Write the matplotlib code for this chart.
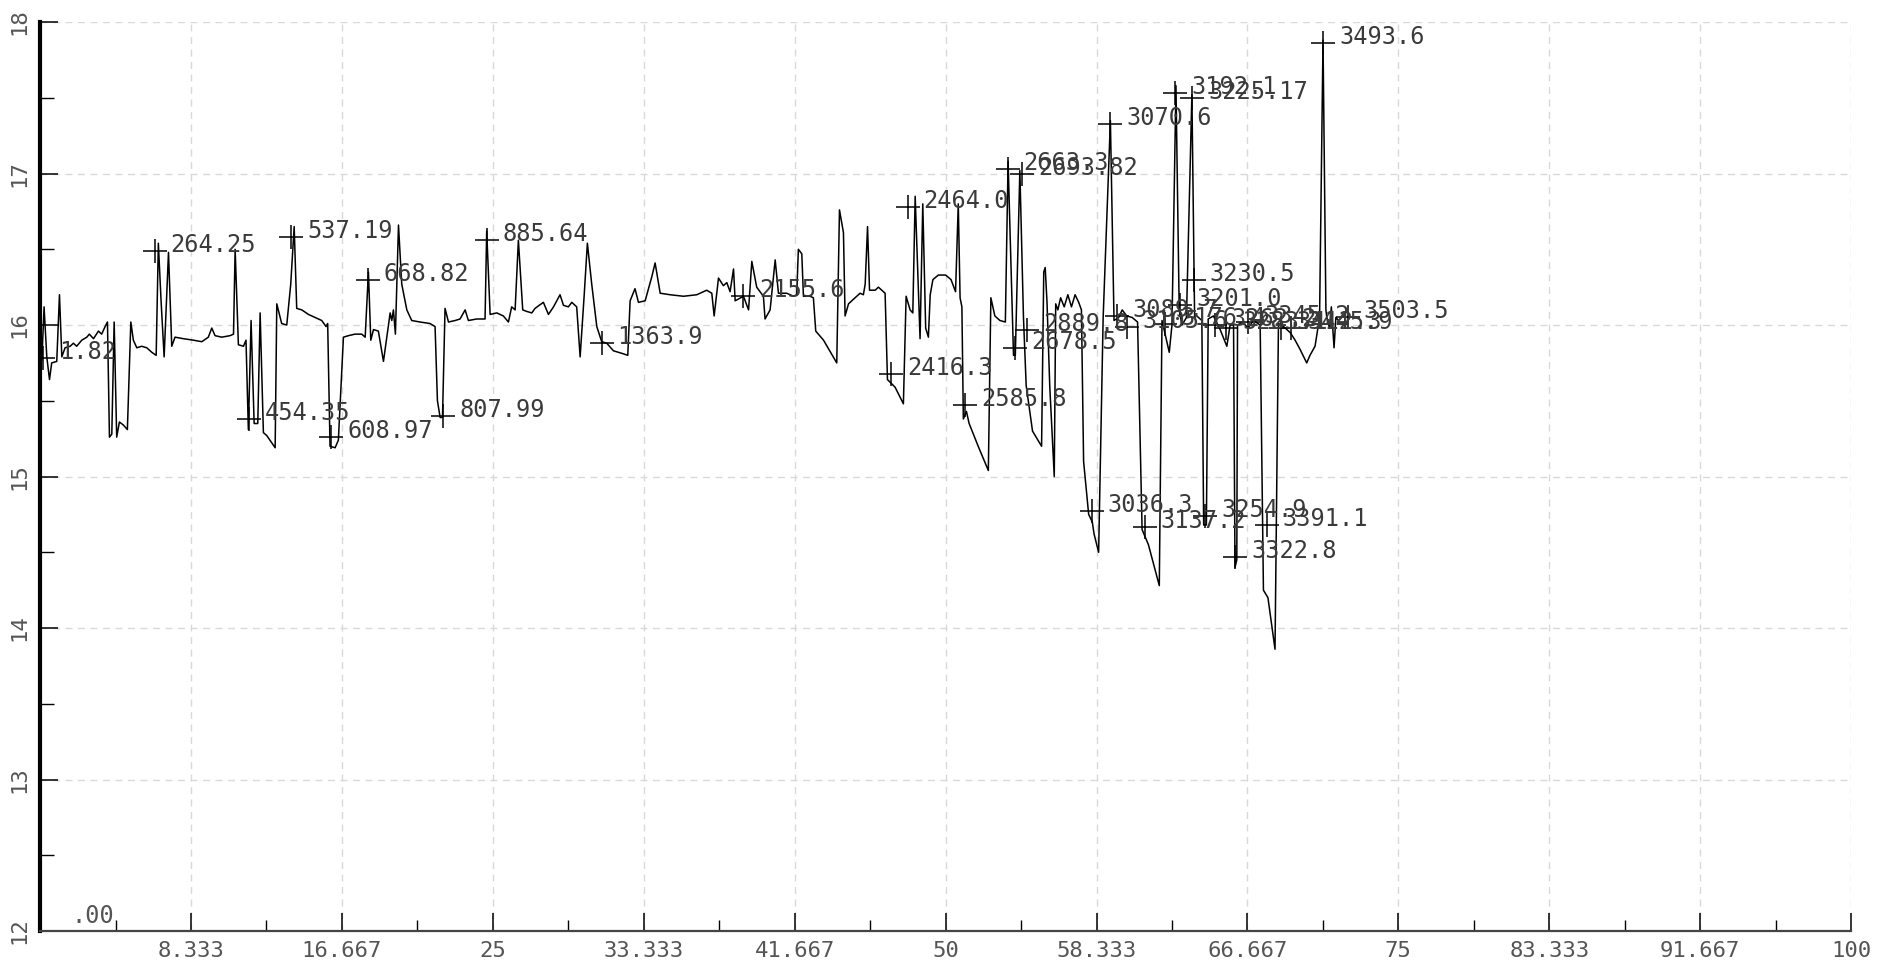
import matplotlib
matplotlib.use("Agg")
import matplotlib.pyplot as plt
from matplotlib.ticker import FixedLocator, MultipleLocator

# ---- trace data (x in %, y value) ----
trace_x = [
    0.10, 0.22, 0.37, 0.52, 0.64, 0.92, 1.07, 1.20, 1.38, 1.66, 1.84, 2.02, 2.30, 2.58, 2.72, 2.95,
    3.22, 3.40, 3.59, 3.72, 3.83, 3.96, 4.09, 4.23, 4.38, 4.60, 4.82, 5.01, 5.15, 5.34, 5.61, 5.89,
    6.17, 6.41, 6.53, 6.68, 6.85, 7.09, 7.27, 7.45, 7.91, 8.47, 8.93, 9.29, 9.48, 9.66, 10.03, 10.49,
    10.68, 10.77, 10.95, 11.23, 11.37, 11.50, 11.65, 11.82, 12.02, 12.15, 12.33, 12.52, 12.98, 13.07,
    13.34, 13.62, 13.84, 14.03, 14.17, 14.45, 14.82, 15.18, 15.55, 15.79, 15.88, 16.01, 16.29, 16.47,
    16.75, 17.03, 17.39, 17.76, 17.95, 18.13, 18.26, 18.41, 18.68, 18.96, 19.33, 19.42, 19.51, 19.62,
    19.79, 19.97, 20.25, 20.52, 20.98, 21.53, 21.81, 21.94, 22.09, 22.22, 22.36, 22.55, 22.92, 23.19,
    23.47, 23.65, 24.11, 24.57, 24.66, 24.85, 25.22, 25.58, 25.86, 26.04, 26.23, 26.41, 26.65, 26.87,
    27.15, 27.33, 27.79, 28.07, 28.35, 28.71, 28.90, 29.17, 29.36, 29.63, 29.82, 30.04, 30.22, 30.46,
    30.74, 31.01, 31.29, 31.66, 32.21, 32.45, 32.58, 32.85, 33.04, 33.41, 33.78, 33.96, 34.24, 34.79,
    35.53, 36.26, 36.81, 37.09, 37.22, 37.46, 37.73, 37.92, 38.10, 38.29, 38.38, 38.84, 39.12, 39.30,
    39.57, 39.94, 40.03, 40.31, 40.59, 40.77, 41.23, 41.60, 41.78, 41.87, 42.06, 42.15, 42.52, 42.70,
    42.83, 43.26, 43.99, 44.14, 44.36, 44.45, 44.64, 44.91, 45.28, 45.46, 45.56, 45.69, 45.80, 46.11,
    46.29, 46.66, 46.79, 47.21, 47.67, 47.82, 48.04, 48.19, 48.32, 48.59, 48.74, 48.90, 49.05, 49.15,
    49.30, 49.60, 50.00, 50.30, 50.55, 50.70, 50.80, 50.90, 50.98, 51.15, 51.30, 51.80, 52.36, 52.50,
    52.72, 53.00, 53.30, 53.45, 53.75, 53.85, 54.10, 54.30, 54.45, 54.80, 55.30, 55.42, 55.50, 55.60,
    55.75, 56.00, 56.08, 56.20, 56.35, 56.55, 56.75, 56.95, 57.15, 57.35, 57.50, 57.62, 57.90, 58.10,
    58.20, 58.45, 58.70, 59.10, 59.30, 59.56, 59.75, 60.00, 60.30, 60.60, 60.85, 61.20, 61.80, 61.95,
    62.10, 62.35, 62.50, 62.72, 62.90, 63.05, 63.30, 63.60, 63.75, 63.87, 64.15, 64.25, 64.40, 64.50,
    64.79, 65.16, 65.53, 65.71, 65.90, 65.98, 66.08, 66.12, 66.40, 66.70, 67.00, 67.37, 67.55, 67.80,
    68.19, 68.38, 68.66, 69.03, 69.30, 69.57, 69.94, 70.12, 70.40, 70.65, 70.84, 71.00, 71.05, 71.20,
    71.30, 71.45, 71.55, 71.70,
]
trace_y = [
    15.77, 16.12, 15.79, 15.64, 15.75, 15.76, 16.20, 15.79, 15.85, 15.86, 15.88, 15.86, 15.90, 15.92, 15.94, 15.91,
    15.96, 15.94, 15.99, 16.02, 15.26, 15.28, 16.02, 15.26, 15.36, 15.34, 15.31, 16.02, 15.90, 15.85, 15.86, 15.85,
    15.82, 15.80, 16.54, 16.16, 15.79, 16.48, 15.86, 15.92, 15.91, 15.90, 15.89, 15.92, 15.98, 15.93, 15.92, 15.93,
    15.94, 16.50, 15.87, 15.86, 15.90, 15.31, 16.03, 15.35, 15.35, 16.08, 15.29, 15.27, 15.19, 16.14,
    16.01, 16.00, 16.27, 16.65, 16.11, 16.10, 16.07, 16.05, 16.03, 15.99, 16.01, 15.20, 15.19, 15.24,
    15.92, 15.93, 15.94, 15.94, 15.92, 16.35, 15.90, 15.97, 15.96, 15.76, 16.08, 16.03, 16.10, 15.94,
    16.66, 16.27, 16.10, 16.03, 16.02, 16.01, 15.99, 15.50, 15.39, 15.39, 16.11, 16.02, 16.03, 16.04,
    16.10, 16.03, 16.04, 16.04, 16.62, 16.07, 16.08, 16.06, 16.02, 16.12, 16.10, 16.56, 16.10, 16.09,
    16.08, 16.11, 16.15, 16.07, 16.12, 16.20, 16.13, 16.12, 16.15, 16.12, 15.79, 16.19, 16.54, 16.27,
    15.99, 15.89, 15.88, 15.83, 15.81, 15.80, 16.16, 16.24, 16.15, 16.16, 16.32, 16.41, 16.21, 16.20,
    16.19, 16.20, 16.23, 16.21, 16.06, 16.31, 16.26, 16.28, 16.22, 16.37, 16.16, 16.19, 16.10, 16.42,
    16.25, 16.19, 16.04, 16.10, 16.43, 16.21, 16.21, 16.19, 16.20, 16.50, 16.47, 16.19, 16.19, 16.18,
    15.96, 15.90, 15.75, 16.76, 16.61, 16.06, 16.14, 16.17, 16.21, 16.20, 16.27, 16.65, 16.23, 16.23,
    16.25, 16.21, 15.64, 15.59, 15.48, 16.19, 16.10, 16.08, 16.85, 15.91, 16.80, 15.98, 15.92, 16.20,
    16.30, 16.33, 16.33, 16.30, 16.22, 16.80, 16.18, 16.12, 15.38, 15.43, 15.35, 15.20, 15.04, 16.18,
    16.06, 16.03, 16.02, 17.08, 15.80, 15.80, 17.02, 16.05, 15.60, 15.30, 15.20, 16.35, 16.38, 16.15,
    15.60, 15.00, 16.14, 16.10, 16.18, 16.12, 16.20, 16.12, 16.20, 16.15, 16.10, 15.10, 14.75, 14.70,
    14.62, 14.50, 16.05, 17.35, 16.03, 16.05, 16.10, 16.06, 16.05, 16.02, 14.65, 14.55, 14.28, 16.03,
    15.95, 15.82, 16.00, 17.58, 16.10, 16.00, 16.05, 17.52, 16.05, 16.06, 16.03, 14.68, 14.68, 16.04,
    16.06, 15.97, 15.86, 16.00, 16.00, 14.40, 14.45, 16.00, 16.02, 15.98, 16.03, 16.00, 14.25, 14.20,
    13.86, 16.01, 15.99, 15.95, 15.90, 15.84, 15.75, 15.80, 15.86, 16.05, 17.88, 16.10, 16.05, 15.98,
    16.12, 15.85, 16.05, 16.03,
]

# ---- peak annotations ----
ann_text = ["1.82", "264.25", "454.35", "537.19", "608.97", "668.82", "807.99", "885.64",
            "1363.9", "2155.6", "2416.3", "2464.0", "2585.8", "2663.3", "2678.5", "2693.82",
            "2889.8", "3036.3", "3070.6", "3089.7", "3105.6", "3137.2", "3176.4", "3192.1",
            "3201.0", "3225.17", "3230.5", "3254.9", "3262.2", "3283.1", "3322.8", "3345.2",
            "3391.1", "3412.3", "3445.9", "3493.6", "3503.5"]
ann_x = [0.17, 6.32, 11.55, 13.85, 16.08, 18.08, 22.27, 24.67,
         31.0, 38.83, 47.0, 47.9, 51.07, 53.42, 53.85, 54.22,
         54.5, 58.07, 59.1, 59.45, 60.0, 61.0, 62.1, 62.68,
         62.95, 63.62, 63.7, 64.33, 64.9, 65.5, 65.99, 66.7,
         67.74, 68.5, 69.1, 70.84, 72.2]
ann_y = [15.78, 16.49, 15.38, 16.58, 15.26, 16.30, 15.40, 16.56,
         15.88, 16.19, 15.68, 16.78, 15.47, 17.03, 15.85, 17.00,
         15.97, 14.77, 17.33, 16.06, 15.99, 14.67, 16.01, 17.53,
         16.13, 17.50, 16.30, 14.74, 16.00, 15.98, 14.47, 16.02,
         14.68, 15.98, 15.98, 17.86, 16.05]

# ---- axes ticks ----
xtick_vals = [8.333, 16.667, 25, 33.333, 41.667, 50, 58.333, 66.667, 75, 83.333, 91.667, 100]
xtick_labels = ["8.333", "16.667", "25", "33.333", "41.667", "50", "58.333", "66.667",
                "75", "83.333", "91.667", "100"]
ytick_vals = [12, 13, 14, 15, 16, 17, 18]
ytick_labels = ["12", "13", "14", "15", "16", "17", "18"]

fig = plt.figure(figsize=(18.91, 9.63), dpi=100)
ax = fig.add_axes([0.0212, 0.0332, 0.9577, 0.9439])
ax.set_xlim(0, 100)
ax.set_ylim(12, 18)

ax.plot(trace_x, trace_y, color="black", lw=1.1, zorder=3)

ax.plot(ann_x, ann_y, linestyle="none", marker="+", ms=17, mew=1.1, color="black", zorder=4)
for t, x, y in zip(ann_text, ann_x, ann_y):
    ax.annotate(t, (x, y), xytext=(16, 6), textcoords="offset pixels",
                ha="left", va="center", fontsize=17, family="DejaVu Sans Mono",
                color="#3a3a3a", zorder=5)

ax.text(1.75, 12.02, ".00", fontsize=17, family="DejaVu Sans Mono", color="#555555",
        ha="left", va="bottom")

ax.xaxis.set_major_locator(FixedLocator(xtick_vals))
ax.set_xticklabels(xtick_labels)
ax.xaxis.set_minor_locator(FixedLocator([4.1667 + 8.3333 * i for i in range(12)]))
ax.yaxis.set_major_locator(FixedLocator(ytick_vals))
ax.set_yticklabels(ytick_labels, rotation=90, va="center")
ax.yaxis.set_minor_locator(MultipleLocator(0.5))

ax.tick_params(axis="x", which="major", direction="in", length=13, width=1.1, pad=7,
               labelsize=16, labelcolor="#555555", colors="black")
ax.tick_params(axis="x", which="minor", direction="in", length=8, width=1.0)
ax.tick_params(axis="y", which="major", direction="in", length=13, width=1.1, pad=8,
               labelsize=16, labelcolor="#555555")
ax.tick_params(axis="y", which="minor", direction="in", length=10, width=1.0)
for lab in ax.get_xticklabels():
    lab.set_family("DejaVu Sans Mono")
for lab in ax.get_yticklabels():
    lab.set_family("DejaVu Sans Mono")

ax.grid(True, which="major", color="#d9d9d9", linestyle=(0, (5, 4)), linewidth=1.0)
ax.set_axisbelow(True)

ax.spines["top"].set_visible(False)
ax.spines["right"].set_visible(False)
ax.spines["left"].set_linewidth(3.0)
ax.spines["left"].set_color("black")
ax.spines["bottom"].set_linewidth(1.6)
ax.spines["bottom"].set_color("#444444")

fig.savefig("out.png", dpi=100)
